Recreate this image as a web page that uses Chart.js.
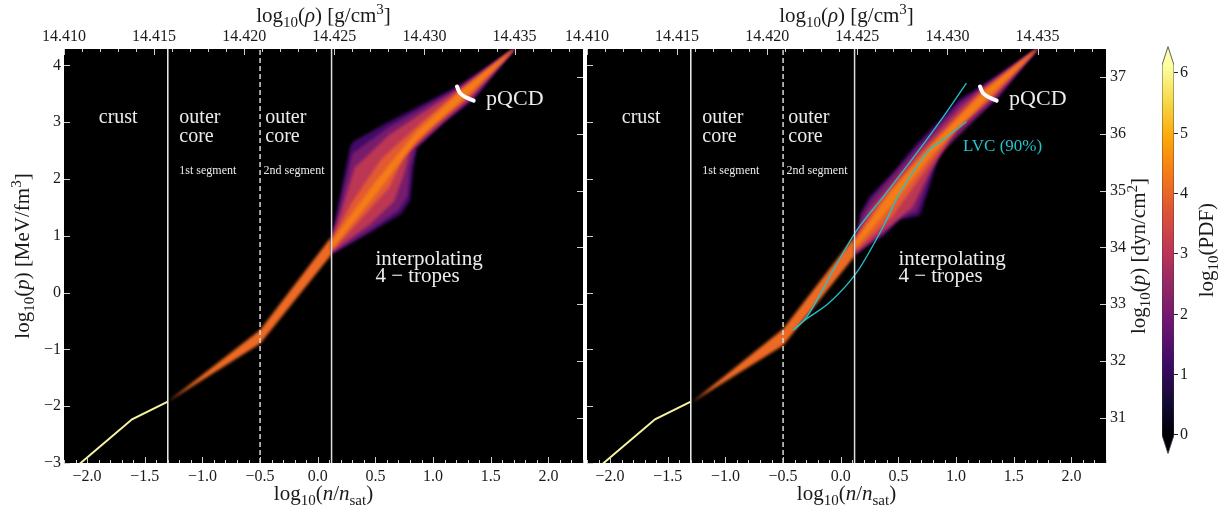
<!DOCTYPE html>
<html>
<head>
<meta charset="utf-8">
<script src="https://cdn.jsdelivr.net/npm/chart.js@4.4.1/dist/chart.umd.min.js"></script>
<style>
  html, body { margin: 0; padding: 0; background: #fff; }
  #wrap { position: relative; width: 1219px; height: 508px; }
  #wrap canvas { position: absolute; left: 0; top: 0; }
</style>
</head>
<body>
<div id="wrap">
  <canvas id="leftPanel" width="1219" height="508"></canvas>
  <canvas id="rightPanel" width="1219" height="508"></canvas>
  <canvas id="colorBar" width="1219" height="508"></canvas>
</div>
<script>
// ---- axes ----
const nRange = [-2.2, 2.3];
const pRange = [-3, 4.29];
const nTicks = [-2.0, -1.5, -1.0, -0.5, 0.0, 0.5, 1.0, 1.5, 2.0];
const pTicks = [-3, -2, -1, 0, 1, 2, 3, 4];
const pDynTicks = [31, 32, 33, 34, 35, 36, 37];
const rhoRange = [14.410, 14.4388];
const rhoTicks = [14.410, 14.415, 14.420, 14.425, 14.430, 14.435];
const pdfRange = [0, 6.13];
const pdfTicks = [0, 1, 2, 3, 4, 5, 6];
const MEV_TO_DYN = 33.2047; // log10(MeV/fm^3 -> dyn/cm^2)

// ---- curves [log10(n/nsat), log10(p)] ----
const segmentEdges = [-1.3, -0.5, 0.12];
const crust = [[-2.2, -3.25], [-1.61, -2.23], [-1.30, -1.92]];
const pqcd = [[1.207, 3.63], [1.236, 3.51], [1.294, 3.43], [1.352, 3.38]];
const lvcUpper = [[-0.41, -0.66], [-0.30, -0.44], [-0.05, 0.45], [0.14, 1.10], [0.37, 1.69], [0.66, 2.46], [0.89, 3.10], [1.09, 3.69]];
const lvcLower = [[-0.41, -0.66], [-0.30, -0.47], [-0.10, -0.18], [0.14, 0.36], [0.37, 1.17], [0.51, 1.75], [0.66, 2.22], [0.77, 2.52], [0.86, 2.65], [1.09, 3.01]];

// ---- PDF bands, left panel (no LVC) ----
const segLeftLow = [[-1.30, -1.92], [-0.50, -0.90], [0.12, 0.67]];
const segLeftUp = [[-1.30, -1.92], [-0.50, -0.66], [0.12, 0.99]];
const fanL1Low = [[0.12, 0.67], [0.45, 1.05], [0.72, 1.38], [0.80, 1.62], [0.83, 2.2], [0.86, 2.55], [1.10, 3.0], [1.35, 3.40], [1.72, 4.32]];
const fanL1Up = [[0.12, 0.99], [0.14, 1.17], [0.28, 2.57], [0.31, 2.66], [0.60, 2.99], [1.21, 3.63], [1.72, 4.32]];
const fanL2Low = [[0.12, 0.69], [0.45, 1.1], [0.70, 1.45], [0.78, 1.7], [0.80, 2.2], [0.85, 2.55], [1.10, 3.03], [1.35, 3.42], [1.72, 4.32]];
const fanL2Up = [[0.12, 0.97], [0.16, 1.25], [0.30, 2.45], [0.62, 2.92], [1.21, 3.60], [1.72, 4.32]];
const fanL3Low = [[0.12, 0.71], [0.45, 1.2], [0.66, 1.6], [0.75, 2.1], [0.80, 2.5], [1.33, 3.44], [1.72, 4.32]];
const fanL3Up = [[0.12, 0.95], [0.20, 1.4], [0.32, 2.2], [0.62, 2.78], [1.22, 3.58], [1.72, 4.32]];
const fanL4Low = [[0.12, 0.73], [0.40, 1.35], [0.62, 1.85], [0.75, 2.4], [1.0, 2.95], [1.32, 3.46], [1.72, 4.32]];
const fanL4Up = [[0.12, 0.93], [0.30, 1.6], [0.55, 2.35], [0.9, 3.0], [1.23, 3.56], [1.72, 4.32]];
const fanL5Low = [[0.12, 0.76], [0.5, 1.72], [0.85, 2.66], [1.30, 3.48], [1.72, 4.32]];
const fanL5Up = [[0.12, 0.9], [0.5, 1.95], [0.85, 2.82], [1.24, 3.55], [1.72, 4.32]];

// ---- PDF bands, right panel (with LVC) ----
const segRightLow = [[-1.29, -1.93], [-0.50, -0.93], [0.12, 0.64]];
const segRightUp = [[-1.29, -1.93], [-0.50, -0.64], [0.12, 0.99]];
const fanR1Low = [[0.12, 0.64], [0.20, 0.80], [0.37, 1.0], [0.51, 1.28], [0.685, 1.36], [0.77, 1.87], [0.84, 2.34], [0.945, 2.75], [1.35, 3.40], [1.72, 4.32]];
const fanR1Up = [[0.12, 0.99], [0.16, 1.10], [0.17, 1.40], [0.25, 1.69], [0.45, 2.10], [0.66, 2.63], [0.89, 3.10], [1.03, 3.40], [1.21, 3.63], [1.72, 4.32]];
const fanR2Low = [[0.12, 0.66], [0.37, 1.04], [0.51, 1.32], [0.66, 1.43], [0.75, 1.92], [0.84, 2.40], [1.35, 3.42], [1.72, 4.32]];
const fanR2Up = [[0.12, 0.97], [0.18, 1.35], [0.27, 1.66], [0.66, 2.55], [1.03, 3.34], [1.21, 3.60], [1.72, 4.32]];
const fanR3Low = [[0.12, 0.69], [0.40, 1.13], [0.62, 1.50], [0.78, 2.15], [1.0, 2.85], [1.33, 3.44], [1.72, 4.32]];
const fanR3Up = [[0.12, 0.95], [0.25, 1.45], [0.66, 2.45], [1.05, 3.28], [1.22, 3.58], [1.72, 4.32]];
const fanR4Low = [[0.12, 0.72], [0.45, 1.35], [0.75, 2.2], [1.0, 2.88], [1.32, 3.46], [1.72, 4.32]];
const fanR4Up = [[0.12, 0.93], [0.35, 1.62], [0.70, 2.45], [1.23, 3.56], [1.72, 4.32]];
const fanR5Low = [[0.12, 0.77], [0.45, 1.55], [0.80, 2.45], [1.30, 3.48], [1.72, 4.32]];
const fanR5Up = [[0.12, 0.89], [0.45, 1.82], [0.80, 2.62], [1.24, 3.54], [1.72, 4.32]];

// ---- styling ----
const FONT = '"Liberation Serif", "DejaVu Serif", serif';
const TEXT = '#1a1a1a';
const NOTE = '#ececec';
const TICK = '#d0d0d0';
const LVC = '#22c3cc';
const BLUR = 'blur(1.6px)';
const layerColors = ['#420a68', '#781c6d', '#bc3754', '#e35a32', '#f57d15'];
const segColor = '#ee6a24';
const inferno = ['#000004', '#160b39', '#420a68', '#6a176e', '#932667', '#bc3754', '#dd513a', '#f37819', '#fca50a', '#f6d746', '#fcffa4'];

const notes = [
  { text: 'crust', n: -1.73, p: 3.08, size: 20, align: 'center' },
  { text: 'outer', n: -1.20, p: 3.08, size: 20 },
  { text: 'core', n: -1.20, p: 2.745, size: 20 },
  { text: '1st segment', n: -1.20, p: 2.15, size: 12 },
  { text: 'outer', n: -0.455, p: 3.08, size: 20 },
  { text: 'core', n: -0.455, p: 2.745, size: 20 },
  { text: '2nd segment', n: -0.47, p: 2.15, size: 12 },
  { text: 'interpolating', n: 0.50, p: 0.58, size: 21 },
  { text: '4 − tropes', n: 0.50, p: 0.28, size: 21 },
  { text: 'pQCD', n: 1.46, p: 3.40, size: 22 }
];
const lvcNote = { text: 'LVC (90%)', n: 1.06, p: 2.57, size: 17, color: LVC };

const titleN = [['log', ''], ['10', 'sub'], ['(', ''], ['n', 'i'], ['/', ''], ['n', 'i'], ['sat', 'sub'], [')', '']];
const titleRho = [['log', ''], ['10', 'sub'], ['(', ''], ['ρ', 'i'], [') [g/cm', ''], ['3', 'sup'], [']', '']];
const titleMev = [['log', ''], ['10', 'sub'], ['(', ''], ['p', 'i'], [') [MeV/fm', ''], ['3', 'sup'], [']', '']];
const titleDyn = [['log', ''], ['10', 'sub'], ['(', ''], ['p', 'i'], [') [dyn/cm', ''], ['2', 'sup'], [']', '']];
const titlePdf = [['log', ''], ['10', 'sub'], ['(PDF)', '']];

const pts = arr => arr.map(([x, y]) => ({ x, y }));
const fmt = (v, d) => (v < 0 ? '−' : '') + Math.abs(v).toFixed(d);

function richText(ctx, parts, x, y, size, rot) {
  const fontOf = k => (k === 'i' ? 'italic ' : '') + (k === 'sub' || k === 'sup' ? Math.round(size * 0.7) : size) + 'px ' + FONT;
  let w = 0;
  parts.forEach(([t, k]) => { ctx.font = fontOf(k); w += ctx.measureText(t).width; });
  ctx.save();
  ctx.translate(x, y);
  ctx.rotate(rot || 0);
  ctx.fillStyle = TEXT;
  ctx.textAlign = 'left';
  ctx.textBaseline = 'alphabetic';
  let cx = -w / 2;
  parts.forEach(([t, k]) => {
    ctx.font = fontOf(k);
    const dy = k === 'sub' ? size * 0.22 : k === 'sup' ? -size * 0.38 : 0;
    ctx.fillText(t, cx, dy + size * 0.33);
    cx += ctx.measureText(t).width;
  });
  ctx.restore();
}

function drawInTicks(chart, sets) {
  const { ctx, chartArea: a } = chart;
  ctx.save();
  ctx.strokeStyle = TICK;
  ctx.lineWidth = 1;
  sets.forEach(s => {
    const sc = chart.scales[s.scale];
    const marks = s.major.map(v => [v, 6]);
    if (s.minor) {
      for (let k = Math.ceil(sc.min / s.minor - 1e-6); k * s.minor <= sc.max + 1e-9; k++) {
        const v = k * s.minor;
        if (!s.major.some(m => Math.abs(m - v) < s.minor / 10)) marks.push([v, 3]);
      }
    }
    marks.forEach(([v, len]) => {
      const q = Math.round(sc.getPixelForValue(v)) + 0.5;
      ctx.beginPath();
      if (s.edge === 'bottom') { ctx.moveTo(q, a.bottom); ctx.lineTo(q, a.bottom - len); }
      else if (s.edge === 'top') { ctx.moveTo(q, a.top); ctx.lineTo(q, a.top + len); }
      else if (s.edge === 'left') { ctx.moveTo(a.left, q); ctx.lineTo(a.left + len, q); }
      else { ctx.moveTo(a.right, q); ctx.lineTo(a.right - len, q); }
      ctx.stroke();
    });
  });
  ctx.restore();
}

function makeDeco(cfg) {
  return {
    id: 'deco',
    beforeDraw(chart) {
      const { ctx, chartArea: a } = chart;
      ctx.save();
      ctx.fillStyle = '#000';
      ctx.fillRect(a.left, a.top, a.right - a.left, a.bottom - a.top);
      ctx.restore();
    },
    // soften the PDF bands only
    beforeDatasetsDraw(chart) { chart.ctx.filter = BLUR; },
    beforeDatasetDraw(chart, args) { if (!chart.data.datasets[args.index].band) chart.ctx.filter = 'none'; },
    afterDatasetDraw(chart) { chart.ctx.filter = BLUR; },
    afterDatasetsDraw(chart) { chart.ctx.filter = 'none'; },
    afterDraw(chart) {
      const { ctx, chartArea: a, scales } = chart;
      drawInTicks(chart, [
        { scale: 'x', edge: 'bottom', major: nTicks, minor: 0.1 },
        { scale: 'xt', edge: 'top', major: rhoTicks, minor: 0.001 },
        { scale: 'y', edge: 'left', major: pTicks },
        { scale: 'yr', edge: 'right', major: pDynTicks }
      ]);
      ctx.save();
      ctx.textBaseline = 'middle';
      cfg.notes.forEach(nt => {
        ctx.font = nt.size + 'px ' + FONT;
        ctx.fillStyle = nt.color || NOTE;
        ctx.textAlign = nt.align || 'left';
        ctx.fillText(nt.text, scales.x.getPixelForValue(nt.n), scales.y.getPixelForValue(nt.p));
      });
      ctx.restore();
      const cx = (a.left + a.right) / 2, cy = (a.top + a.bottom) / 2;
      richText(ctx, titleN, cx, a.bottom + 30, 21);
      richText(ctx, titleRho, cx, a.top - 34, 21);
      if (cfg.side === 'left') richText(ctx, titleMev, a.left - 42, cy, 21, -Math.PI / 2);
      else richText(ctx, titleDyn, a.right + 32, cy, 21, -Math.PI / 2);
    }
  };
}

function bandPair(low, up, color, order) {
  const base = { borderColor: 'rgba(0,0,0,0)', borderWidth: 0, pointRadius: 0, order, band: true, clip: 0 };
  return [
    Object.assign({ data: pts(low), fill: false }, base),
    Object.assign({ data: pts(up), fill: '-1', backgroundColor: color }, base)
  ];
}

function lineSet(data, color, width, extra) {
  return Object.assign({ data: pts(data), borderColor: color, borderWidth: width, pointRadius: 0, fill: false, order: 0, clip: 0 }, extra || {});
}

function panelDatasets(seg, fan, withLvc) {
  const ds = [];
  // overlays first (drawn on top)
  segmentEdges.forEach((e, i) => {
    ds.push(lineSet([[e, pRange[0]], [e, pRange[1]]], i === 1 ? '#d8d8d8' : (i === 2 ? '#dddddd' : '#f2f2f2'), 1.5, i === 1 ? { borderDash: [5, 3] } : {}));
  });
  ds.push(lineSet(crust, '#f7f3a2', 2));
  if (withLvc) {
    ds.push(lineSet(lvcUpper, LVC, 1.3, { cubicInterpolationMode: 'monotone' }));
    ds.push(lineSet(lvcLower, LVC, 1.3, { cubicInterpolationMode: 'monotone' }));
  }
  ds.push(lineSet(pqcd, '#ffffff', 4, { tension: 0.4, borderCapStyle: 'round' }));
  ds.push(...bandPair(seg[0], seg[1], segColor, 1));
  for (let i = fan.length - 1; i >= 0; i--) {
    ds.push(...bandPair(fan[i][0], fan[i][1], layerColors[i], 2 + (fan.length - 1 - i)));
  }
  return ds;
}

const tickFont = { family: FONT, size: 16 };
function panelScales(side) {
  const yOpts = {
    type: 'linear', min: pRange[0], max: pRange[1], bounds: 'data',
    grid: { display: false, drawTicks: false }, border: { display: false }
  };
  return {
    x: {
      type: 'linear', position: 'bottom', min: nRange[0], max: nRange[1], bounds: 'data',
      afterBuildTicks: s => { s.ticks = nTicks.map(value => ({ value })); },
      afterFit: s => { s.height = 45; },
      grid: { display: false, drawTicks: false }, border: { display: false },
      ticks: { font: tickFont, color: TEXT, padding: 4, autoSkip: false, maxRotation: 0, callback: v => fmt(v, 1) }
    },
    xt: {
      type: 'linear', position: 'top', min: rhoRange[0], max: rhoRange[1], bounds: 'data',
      afterBuildTicks: s => { s.ticks = rhoTicks.map(value => ({ value })); },
      afterFit: s => { s.height = 49; },
      grid: { display: false, drawTicks: false }, border: { display: false },
      ticks: { font: tickFont, color: TEXT, padding: 3, autoSkip: false, maxRotation: 0, callback: v => v.toFixed(3) }
    },
    y: Object.assign({}, yOpts, {
      position: 'left', display: side === 'left',
      afterBuildTicks: s => { s.ticks = pTicks.map(value => ({ value })); },
      afterFit: s => { s.width = side === 'left' ? 64 : 0; },
      ticks: { font: tickFont, color: TEXT, padding: 3, autoSkip: false, callback: v => fmt(v, 0) }
    }),
    yr: Object.assign({}, yOpts, {
      position: 'right', display: side === 'right',
      min: pRange[0] + MEV_TO_DYN, max: pRange[1] + MEV_TO_DYN,
      afterBuildTicks: s => { s.ticks = pDynTicks.map(value => ({ value })); },
      afterFit: s => { s.width = side === 'right' ? 44 : 0; },
      ticks: { font: tickFont, color: TEXT, padding: 4, autoSkip: false, callback: v => fmt(v, 0) }
    })
  };
}

function makePanel(canvasId, side, datasets, panelNotes, padding) {
  return new Chart(document.getElementById(canvasId), {
    type: 'line',
    data: { datasets },
    options: {
      responsive: false, animation: false, devicePixelRatio: 1, events: [],
      layout: { padding },
      elements: { line: { tension: 0 }, point: { radius: 0 } },
      plugins: { legend: { display: false }, tooltip: { enabled: false } },
      scales: panelScales(side)
    },
    plugins: [makeDeco({ side, notes: panelNotes })]
  });
}

makePanel('leftPanel', 'left',
  panelDatasets([segLeftLow, segLeftUp],
    [[fanL1Low, fanL1Up], [fanL2Low, fanL2Up], [fanL3Low, fanL3Up], [fanL4Low, fanL4Up], [fanL5Low, fanL5Up]], false),
  notes, { left: 0, right: 636, top: 0, bottom: 0 });

makePanel('rightPanel', 'right',
  panelDatasets([segRightLow, segRightUp],
    [[fanR1Low, fanR1Up], [fanR2Low, fanR2Up], [fanR3Low, fanR3Up], [fanR4Low, fanR4Up], [fanR5Low, fanR5Up]], true),
  notes.concat([lvcNote]), { left: 587, right: 69, top: 0, bottom: 0 });

// ---- colour bar with triangular extends ----
const ext = 0.05 * (pdfRange[1] - pdfRange[0]);
const cbLeft = [[0, pdfRange[0] - ext], [-0.5, pdfRange[0]], [-0.5, pdfRange[1]], [0, pdfRange[1] + ext]];
const cbRight = [[0, pdfRange[0] - ext], [0.5, pdfRange[0]], [0.5, pdfRange[1]], [0, pdfRange[1] + ext]];

new Chart(document.getElementById('colorBar'), {
  type: 'line',
  data: {
    datasets: [
      { data: pts(cbLeft), borderColor: '#3a3a3a', borderWidth: 0.8, pointRadius: 0, fill: false },
      {
        data: pts(cbRight), borderColor: '#3a3a3a', borderWidth: 0.8, pointRadius: 0, fill: '-1',
        backgroundColor: (c) => {
          const chart = c.chart;
          if (!chart.chartArea) return '#000';
          const ys = chart.scales.y;
          const g = chart.ctx.createLinearGradient(0, ys.getPixelForValue(pdfRange[0]), 0, ys.getPixelForValue(pdfRange[1]));
          inferno.forEach((col, i) => g.addColorStop(i / (inferno.length - 1), col));
          return g;
        }
      }
    ]
  },
  options: {
    responsive: false, animation: false, devicePixelRatio: 1, events: [],
    indexAxis: 'y',
    layout: { padding: { left: 1162, right: 2, top: 46, bottom: 54 } },
    elements: { line: { tension: 0 }, point: { radius: 0 } },
    plugins: { legend: { display: false }, tooltip: { enabled: false } },
    scales: {
      x: { type: 'linear', min: -0.5, max: 0.5, display: false },
      y: {
        type: 'linear', position: 'right', min: -0.315, max: 6.4475, bounds: 'data',
        afterBuildTicks: s => { s.ticks = pdfTicks.map(value => ({ value })); },
        afterFit: s => { s.width = 43; },
        grid: { drawOnChartArea: false, drawTicks: true, tickLength: 4, color: '#222' },
        border: { display: false },
        ticks: { font: tickFont, color: TEXT, padding: 2, autoSkip: false, callback: v => fmt(v, 0) }
      }
    }
  },
  plugins: [{
    id: 'cbTitle',
    afterDraw(chart) {
      const a = chart.chartArea;
      richText(chart.ctx, titlePdf, a.right + 32, (chart.scales.y.getPixelForValue(0) + chart.scales.y.getPixelForValue(pdfRange[1])) / 2, 21, -Math.PI / 2);
    }
  }]
});
</script>
</body>
</html>
